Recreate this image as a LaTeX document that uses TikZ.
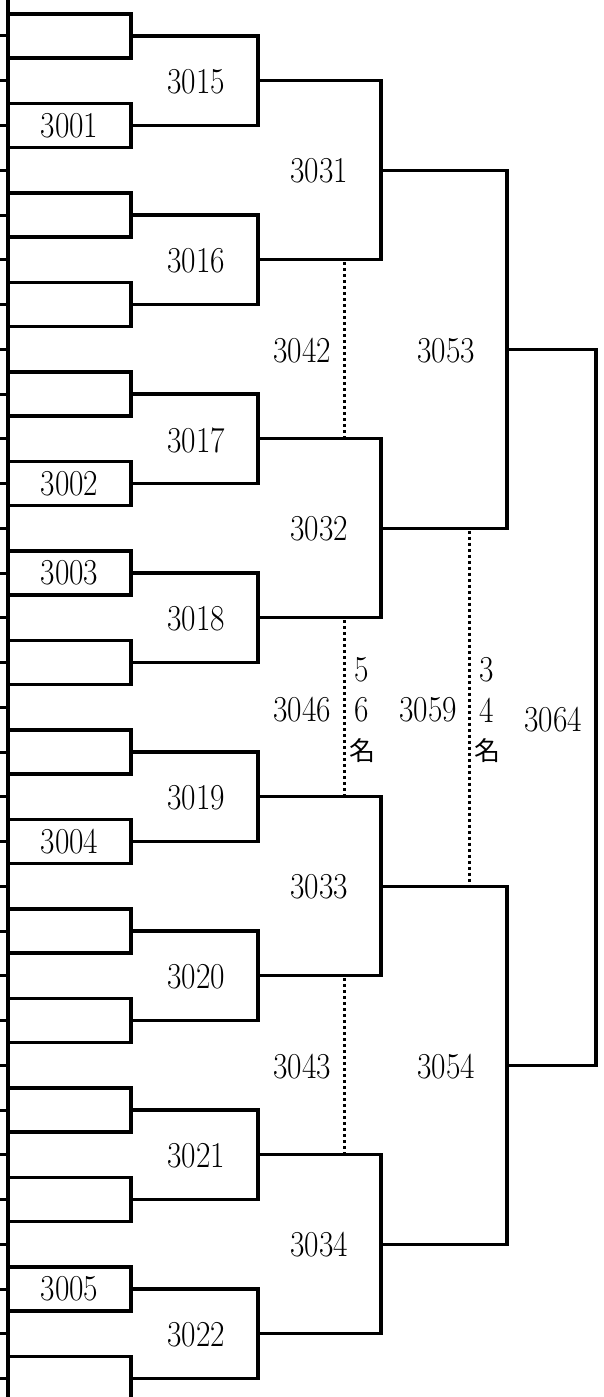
\documentclass[tikz,border=0pt]{standalone}
\usepackage{graphicx}
\usepackage{fontspec}
\newfontfamily\cjkfont{Noto Sans CJK JP}
\newcommand\dnum[1]{\scalebox{0.86}[1]{#1}}
\begin{document}
\begin{tikzpicture}[x=1pt,y=-1pt,line join=miter,
  lw/.style={line width=3.4pt},
  railline/.style={line width=4.6pt},
  tickline/.style={line width=3pt},
  dotline/.style={line width=3pt,dash pattern=on 3pt off 3pt},
  box/.style={draw,line width=3.4pt,minimum width=123pt,minimum height=44pt,inner sep=0pt,outer sep=0pt},
  lbl/.style={font=\fontsize{36.5}{36.5}\selectfont,inner sep=0pt},
  cj/.style={font=\cjkfont\fontsize{26}{26}\selectfont,inner sep=0pt}]
\useasboundingbox (0,0) rectangle (603,1397);
% rail and ticks
\coordinate (railtop) at (8,0);
\coordinate (railbot) at (8,1397);
\draw[railline] (railtop) -- (railbot);
\foreach \i in {0,...,30} {
  \pgfmathsetmacro\yy{36+44.75*\i}
  \coordinate (tk\i) at (0,\yy);
  \draw[tickline] (tk\i) -- (tk\i -| railtop);
}
% first-round boxes
\foreach \i in {0,...,15} {
  \pgfmathsetmacro\yy{36+89.5*\i}
  \node[box] (b\i) at (69.5,\yy) {};
}
\node[lbl] (n3001) at (b1) {\dnum{3001}};
\node[lbl] (n3002) at (b5) {\dnum{3002}};
\node[lbl] (n3003) at (b6) {\dnum{3003}};
\node[lbl] (n3004) at (b9) {\dnum{3004}};
\node[lbl] (n3005) at (b14) {\dnum{3005}};
% round 1 brackets
\foreach \k in {0,...,7} {
  \pgfmathtruncatemacro\a{2*\k}
  \pgfmathtruncatemacro\b{2*\k+1}
  \pgfmathsetmacro\yy{80.75+179*\k}
  \coordinate (p\k) at (258,\yy);
  \draw[lw] (b\a.east) -| (p\k) |- (b\b.east);
}
% round 2 brackets
\foreach \j in {0,...,3} {
  \pgfmathtruncatemacro\a{2*\j}
  \pgfmathtruncatemacro\b{2*\j+1}
  \pgfmathsetmacro\yy{170.25+358*\j}
  \coordinate (q\j) at (381,\yy);
  \draw[lw] (p\a) -| (q\j) |- (p\b);
}
% round 3 and final
\coordinate (r0) at (507,349.25);
\coordinate (r1) at (507,1065.25);
\draw[lw] (q0) -| (r0) |- (q1);
\draw[lw] (q2) -| (r1) |- (q3);
\coordinate (fin) at (596,707.25);
\draw[lw] (r0) -| (fin) |- (r1);
% dotted lines
\coordinate (d42a) at (344,262); \coordinate (d42b) at (344,437);
\coordinate (d46a) at (344,620); \coordinate (d46b) at (344,795);
\coordinate (d43a) at (344,978); \coordinate (d43b) at (344,1153);
\coordinate (d59a) at (469,530.5); \coordinate (d59b) at (469,884.5);
\draw[dotline] (d42a) -- (d42b);
\draw[dotline] (d46a) -- (d46b);
\draw[dotline] (d43a) -- (d43b);
\draw[dotline] (d59a) -- (d59b);
% match labels
\node[lbl] (n3015) at (196,82) {\dnum{3015}};
\node[lbl] (n3016) at (196,261) {\dnum{3016}};
\node[lbl] (n3017) at (196,440) {\dnum{3017}};
\node[lbl] (n3018) at (196,619) {\dnum{3018}};
\node[lbl] (n3019) at (196,798) {\dnum{3019}};
\node[lbl] (n3020) at (196,977) {\dnum{3020}};
\node[lbl] (n3021) at (196,1156) {\dnum{3021}};
\node[lbl] (n3022) at (196,1335) {\dnum{3022}};
\node[lbl] (n3031) at (319,171) {\dnum{3031}};
\node[lbl] (n3032) at (319,529) {\dnum{3032}};
\node[lbl] (n3033) at (319,887) {\dnum{3033}};
\node[lbl] (n3034) at (319,1245) {\dnum{3034}};
\node[lbl] (n3053) at (446,351) {\dnum{3053}};
\node[lbl] (n3054) at (446,1067) {\dnum{3054}};
\node[lbl] (n3064) at (553,720) {\dnum{3064}};
\node[lbl] (n3042) at (302,351) {\dnum{3042}};
\node[lbl] (n3046) at (302,710) {\dnum{3046}};
\node[lbl] (n3043) at (302,1067) {\dnum{3043}};
\node[lbl] (n3059) at (428,710) {\dnum{3059}};
% vertical rank texts
\node[lbl] (v5) at (362,670) {\dnum{5}};
\node[lbl] (v6) at (362,710) {\dnum{6}};
\node[cj] (vm1) at (362,751) {名};
\node[lbl] (v3) at (487,670) {\dnum{3}};
\node[lbl] (v4) at (487,710) {\dnum{4}};
\node[cj] (vm2) at (487,751) {名};
\end{tikzpicture}
\end{document}
